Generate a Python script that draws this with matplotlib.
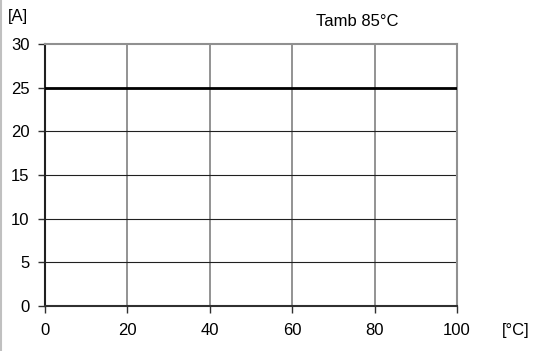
import matplotlib
matplotlib.use("Agg")
import matplotlib.pyplot as plt
from matplotlib.lines import Line2D

x_vals = [0, 100]
current = [25, 25]
x_ticks = [0, 20, 40, 60, 80, 100]
y_ticks = [0, 5, 10, 15, 20, 25, 30]

plt.rcParams['font.family'] = ['Liberation Sans', 'DejaVu Sans']
fig = plt.figure(figsize=(5.35, 3.51), dpi=100)
W, H = 535, 351
ax = fig.add_axes([45/W, 1-306/H, (457-45)/W, (306-44)/H])
ax.set_xlim(0, 100)
ax.set_ylim(0, 30)
ax.set_xticks(x_ticks)
ax.set_yticks(y_ticks)
for xv in x_ticks[1:-1]:
    ax.axvline(xv, color='#808080', lw=1.2, zorder=1)
for yv in y_ticks[1:-1]:
    ax.axhline(yv, color='#202020', lw=0.8, zorder=1)
ax.plot(x_vals, current, color='black', lw=2, zorder=3)
ax.spines['top'].set_color('#909090')
ax.spines['right'].set_color('#909090')
ax.spines['top'].set_linewidth(1.5)
ax.spines['right'].set_linewidth(1.5)
ax.spines['left'].set_color('#202020')
ax.spines['bottom'].set_color('#303030')
ax.spines['left'].set_linewidth(1.5)
ax.spines['bottom'].set_linewidth(1.5)
ax.tick_params(axis='both', direction='out', length=5, width=1, labelsize=12, colors='#303030', labelcolor='black')
ax.tick_params(axis='x', pad=7)
ax.tick_params(axis='y', pad=6)
fig.text(8/W, 1-16/H, '[A]', fontsize=12, ha='left', va='center')
fig.text(502/W, 1-330/H, '[°C]', fontsize=12, ha='left', va='center')
fig.text(357/W, 1-21/H, 'Tamb 85°C', fontsize=12, ha='center', va='center')
fig.add_artist(Line2D([1.5/W, 1.5/W], [0, 1], color='#c0c0c0', lw=1.5, transform=fig.transFigure))
fig.savefig('out.png', dpi=100)
